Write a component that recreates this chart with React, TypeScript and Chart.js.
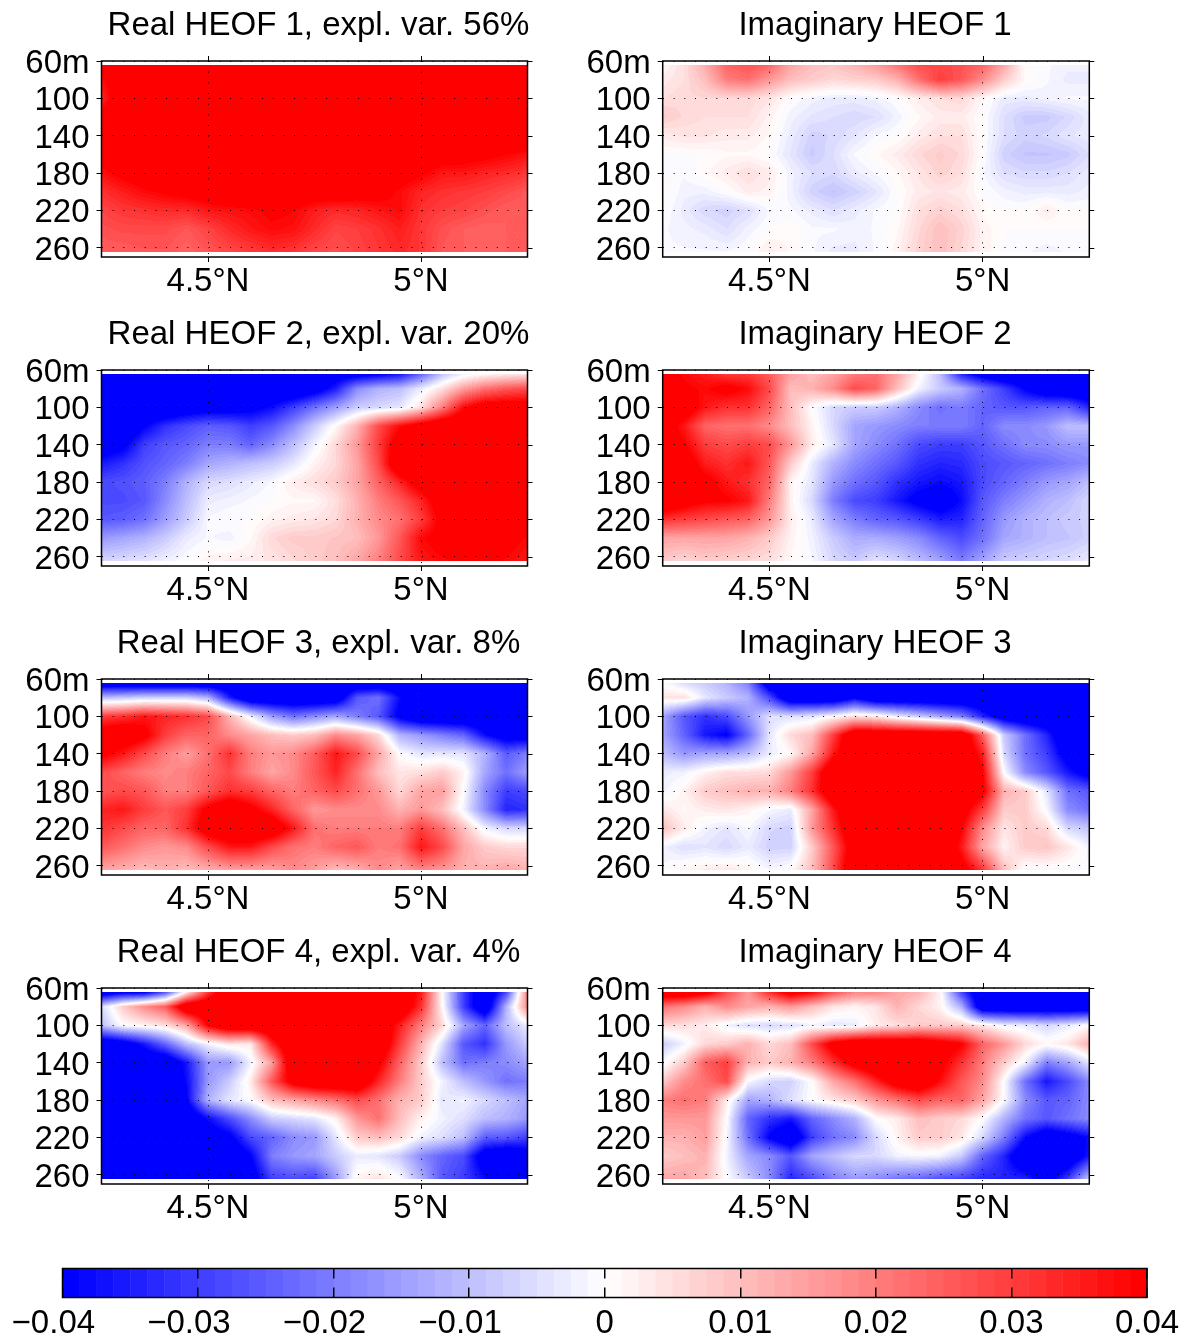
import React, { useEffect, useRef } from "react";
import { Chart, registerables } from "chart.js";

Chart.register(...registerables);

const FONT = "'Liberation Sans', Arial, sans-serif";
const FONT_SIZE = 33;

const latitudes = [4.25, 4.3, 4.35, 4.4, 4.45, 4.5, 4.55, 4.6, 4.65, 4.7, 4.75, 4.8, 4.85, 4.9, 4.95, 5.0, 5.05, 5.1, 5.15, 5.2, 5.25];
const depths = [63.5, 80, 100, 120, 140, 160, 180, 200, 220, 240, 265];
const xTickValues = [4.5, 5];
const xTickLabels = ["4.5°N", "5°N"];
const yTickValues = [60, 100, 140, 180, 220, 260];
const yTickLabels = ["60m", "100", "140", "180", "220", "260"];
const barTickValues = [-0.04, -0.03, -0.02, -0.01, 0, 0.01, 0.02, 0.03, 0.04];
const barTickLabels = ["−0.04\u00A0\u00A0", "−0.03\u00A0\u00A0", "−0.02\u00A0\u00A0", "−0.01\u00A0\u00A0", "0", "0.01", "0.02", "0.03", "0.04"];
const titles = [
  "Real HEOF 1, expl. var. 56%", "Imaginary HEOF 1",
  "Real HEOF 2, expl. var. 20%", "Imaginary HEOF 2",
  "Real HEOF 3, expl. var. 8%", "Imaginary HEOF 3",
  "Real HEOF 4, expl. var. 4%", "Imaginary HEOF 4",
];

// Values in thousandths, one row per depth, one column per latitude.
const realHeof1 = [
  [42,42,42,42,42,42,42,42,42,42,42,42,42,42,42,42,42,42,42,42,42],
  [38,45,46,46,46,46,46,46,46,46,46,46,46,46,46,46,46,46,46,46,46],
  [34,46,50,50,50,50,50,50,50,50,50,50,50,50,50,50,50,50,50,50,50],
  [42,50,50,50,50,50,50,50,50,50,50,50,50,50,50,50,50,50,50,50,50],
  [48,50,50,50,50,50,50,50,50,50,50,50,50,50,50,50,50,50,50,50,46],
  [43,47,50,50,50,50,50,50,50,50,50,50,50,50,50,46,43,42,41,39,37],
  [37,41,44,48,50,50,50,50,50,50,50,50,50,47,43,40,36,36,34,33,31],
  [32,35,38,40,42,44,47,47,50,47,44,44,43,42,38,34,32,31,30,28,26],
  [29,31,32,33,33,36,37,38,40,39,35,33,34,36,38,32,30,29,27,25,25],
  [27,28,28,28,26,29,33,36,38,37,33,29,30,32,35,31,27,25,24,25,25],
  [25,25,26,26,24,26,28,30,32,31,28,27,29,31,33,31,26,25,25,25,25],
];
const imagHeof1 = [
  [1,5,13,24,27,24,14,10,9,12,16,22,28,28,27,24,14,0,-1,-2,-2],
  [3,5,10,20,22,16,10,8,6,7,8,12,22,30,26,18,8,1,-1,-3,-3],
  [5,6,6,6,6,4,0,-2,-3,-3,-2,0,3,5,6,1,-3,-3,-2,-1,-1],
  [8,6,5,5,5,2,-2,-4,-5,-6,-5,-2,1,3,3,0,-5,-8,-8,-6,-3],
  [3,4,4,3,3,1,-3,-7,-6,-4,-1,0,3,5,5,0,-5,-7,-6,-4,-3],
  [0,0,0,1,1,0,-4,-8,-5,-1,1,3,6,8,6,0,-7,-9,-9,-8,-5],
  [0,-1,1,3,5,3,-2,-5,-6,-3,-1,1,4,7,5,-1,-5,-6,-6,-5,-3],
  [1,-2,-2,0,3,2,-2,-7,-9,-7,-4,0,3,4,3,0,-2,-3,-3,-3,-2],
  [0,-3,-6,-7,-5,-1,-1,-3,-5,-3,-1,0,5,7,5,1,0,0,3,0,0],
  [-1,-2,-3,-5,-2,0,1,-1,-1,-2,-1,1,6,10,7,2,0,0,0,0,0],
  [-1,-1,-1,-1,0,3,1,-1,-3,-3,-1,2,7,10,6,2,0,-1,-2,-1,-1],
];
const realHeof2 = [
  [-45,-45,-45,-45,-45,-45,-45,-45,-45,-45,-45,-45,-45,-42,-38,-25,-10,-3,0,2,3],
  [-50,-50,-50,-50,-50,-50,-50,-50,-50,-50,-45,-35,-18,-12,-10,-3,5,15,22,26,28],
  [-50,-50,-50,-50,-46,-44,-44,-42,-38,-30,-22,-15,-8,-6,-4,5,20,38,45,45,45],
  [-50,-50,-40,-32,-28,-25,-26,-30,-26,-18,-8,1,12,28,38,45,50,50,50,50,50],
  [-46,-42,-30,-26,-24,-20,-20,-24,-18,-10,-2,6,16,30,45,50,50,50,50,50,50],
  [-36,-32,-27,-24,-20,-14,-12,-10,-8,-4,2,6,14,28,50,50,50,50,50,50,50],
  [-28,-27,-25,-20,-12,-6,-5,-3,-1,3,5,8,14,24,34,45,50,50,50,50,50],
  [-28,-28,-26,-18,-10,-3,-2,-1,0,1,1,5,12,20,26,34,45,50,50,50,50],
  [-26,-25,-22,-15,-8,-1,0,0,2,3,4,6,12,18,22,30,42,50,50,50,50],
  [-16,-14,-12,-8,-3,-1,-2,1,6,8,8,9,10,16,26,38,42,45,45,42,38],
  [-6,-5,-4,-2,0,2,3,3,4,6,8,10,14,20,28,36,38,40,42,38,36],
];
const imagHeof2 = [
  [40,38,35,30,30,25,15,10,14,20,22,14,2,-10,-35,-45,-50,-50,-50,-50,-50],
  [50,40,38,42,38,28,10,12,18,28,24,10,-2,-8,-12,-22,-30,-40,-48,-50,-50],
  [50,46,36,32,32,24,10,0,-6,-8,-8,-12,-18,-22,-20,-24,-26,-26,-24,-24,-34],
  [45,36,24,22,22,18,10,2,-6,-14,-16,-18,-20,-20,-20,-24,-18,-18,-16,-10,-10],
  [44,40,30,28,30,28,16,3,-4,-14,-18,-22,-28,-30,-30,-26,-22,-18,-18,-16,-16],
  [50,45,35,32,36,26,8,-3,-12,-18,-22,-26,-32,-34,-33,-28,-26,-24,-22,-20,-18],
  [50,46,42,36,32,24,2,-4,-16,-22,-26,-32,-36,-38,-36,-28,-24,-20,-16,-14,-10],
  [50,44,40,40,36,20,2,-6,-20,-28,-30,-36,-42,-46,-38,-26,-20,-16,-12,-10,-6],
  [32,30,28,26,24,16,3,-3,-14,-20,-24,-26,-30,-35,-34,-24,-16,-12,-10,-8,-7],
  [14,14,14,14,12,8,2,-2,-8,-13,-13,-15,-18,-24,-28,-22,-14,-12,-10,-9,-7],
  [8,6,8,7,6,5,1,-1,-6,-8,-4,-6,-10,-14,-20,-14,-8,-7,-6,-5,-3],
];
const realHeof3 = [
  [-50,-50,-50,-50,-50,-50,-50,-50,-50,-50,-50,-50,-50,-50,-50,-50,-50,-50,-50,-50,-50],
  [-10,-9,-7,-7,-7,-12,-35,-50,-50,-50,-50,-48,-26,-22,-38,-46,-46,-50,-50,-50,-50],
  [30,32,36,34,32,28,12,-2,-15,-22,-18,-14,-20,-26,-42,-50,-50,-50,-50,-50,-50],
  [45,48,42,30,24,24,18,14,10,8,10,18,14,6,-12,-16,-20,-24,-38,-45,-45],
  [42,36,28,20,15,22,32,20,16,18,25,36,28,14,0,-4,-4,-4,-12,-25,-20],
  [28,24,20,18,20,24,28,20,14,18,26,34,22,10,4,5,8,2,-14,-22,-15],
  [26,28,26,20,20,26,32,30,24,20,24,28,22,16,6,14,15,0,-18,-30,-28],
  [34,36,30,26,30,42,48,42,34,24,16,18,18,18,12,16,10,-2,-18,-34,-32],
  [32,28,24,24,32,46,50,50,48,36,22,20,20,20,20,30,22,10,-2,-6,-6],
  [26,22,18,16,18,28,36,36,28,22,20,24,26,20,22,36,28,14,8,6,6],
  [14,12,10,12,10,12,14,14,14,18,15,10,12,18,14,18,16,12,12,14,12],
];
const imagHeof3 = [
  [0,-6,-8,-12,-20,-48,-50,-50,-50,-50,-50,-50,-50,-50,-50,-50,-50,-50,-50,-50,-50],
  [4,5,-4,-8,-12,-28,-50,-50,-50,-40,-50,-50,-50,-50,-50,-50,-50,-50,-50,-50,-50],
  [-14,-26,-32,-28,-16,-5,-5,-4,0,5,3,-3,-8,-14,-20,-34,-46,-50,-50,-50,-50],
  [-14,-24,-36,-40,-24,-4,6,10,30,50,50,50,50,50,50,25,-8,-22,-34,-50,-50],
  [-10,-16,-14,-14,-10,-3,1,14,36,50,50,50,50,50,50,35,-6,-22,-30,-44,-50],
  [-3,-2,2,5,5,6,16,30,50,50,50,50,50,50,50,40,0,-18,-26,-36,-44],
  [-2,2,8,10,12,12,20,32,50,50,50,50,50,50,50,42,12,8,-4,-22,-26],
  [4,1,3,4,2,-1,-3,14,36,50,50,50,50,50,45,30,8,8,-1,-18,-22],
  [10,3,-2,-4,-1,-6,-7,16,32,50,50,50,50,50,40,18,4,8,6,-6,-9],
  [-2,-5,-4,-6,-3,-7,-7,8,26,46,50,50,50,50,36,14,2,8,9,4,-2],
  [-1,2,3,4,2,-1,1,10,28,50,50,50,50,48,44,32,10,-1,-1,-1,-1],
];
const realHeof4 = [
  [-50,-45,-45,-30,0,30,50,50,50,50,50,50,50,50,50,36,0,-30,-50,-30,20],
  [-6,8,18,25,50,50,50,50,50,50,50,50,50,50,50,32,1,-30,-50,-12,18],
  [-10,0,2,5,14,40,50,50,50,50,50,50,50,50,35,20,6,-14,-24,-10,-3],
  [-50,-46,-36,-24,-10,-2,4,3,34,50,50,50,50,50,30,12,-5,-26,-32,-16,-8],
  [-50,-50,-50,-50,-36,-16,-16,-2,15,50,50,50,50,42,24,8,-10,-22,-20,-18,-14],
  [-50,-50,-50,-50,-38,-16,-8,3,26,44,50,50,50,34,20,8,-2,-10,-16,-22,-20],
  [-50,-50,-50,-50,-40,-12,-4,0,10,14,18,22,28,22,12,8,-4,-2,-6,-10,-14],
  [-50,-50,-50,-50,-50,-38,-28,-18,-8,-6,-4,2,16,22,10,2,-2,-5,-10,-12,-16],
  [-50,-50,-50,-50,-50,-46,-42,-28,-24,-18,-16,-4,8,10,6,-2,-5,-10,-25,-26,-30],
  [-50,-50,-50,-50,-50,-50,-50,-40,-20,-16,-14,-8,-3,-4,-8,-18,-24,-28,-46,-50,-44],
  [-50,-50,-50,-50,-50,-50,-50,-45,-30,-28,-30,-16,2,5,0,-12,-26,-30,-38,-48,-50],
];
const imagHeof4 = [
  [50,50,45,28,16,34,46,40,28,20,20,14,12,2,-30,-50,-50,-50,-50,-50,-50],
  [22,18,12,18,14,12,16,10,4,2,4,12,6,2,-12,-50,-50,-50,-50,-50,-50],
  [6,5,3,-2,-5,-6,-5,-2,-4,-3,3,5,8,8,8,4,-2,-3,-6,-3,1],
  [-8,-2,6,8,12,6,10,28,44,50,50,50,50,45,40,24,16,6,1,4,12],
  [-1,8,25,30,12,8,12,20,32,44,50,50,50,42,32,20,8,-2,-20,-14,-4],
  [8,18,22,28,-1,-6,-7,0,14,22,34,46,50,38,26,18,0,-22,-36,-28,-18],
  [20,22,20,3,-14,-12,-5,0,4,8,16,22,28,24,24,14,0,-18,-26,-24,-18],
  [16,16,16,0,-24,-32,-36,-24,-18,-12,0,3,10,8,6,0,-12,-22,-26,-22,-18],
  [12,12,15,-1,-22,-40,-50,-30,-22,-18,-6,2,8,8,4,-6,-20,-38,-48,-44,-38],
  [8,10,12,-2,-14,-18,-26,-14,-10,-6,-6,-2,-1,-2,-8,-24,-34,-50,-50,-50,-36],
  [14,14,10,0,-8,-18,-34,-28,-20,-16,-18,-22,-24,-28,-30,-34,-34,-34,-44,-30,-8],
];
const panels = [realHeof1, imagHeof1, realHeof2, imagHeof2, realHeof3, imagHeof3, realHeof4, imagHeof4];

const LEVEL = 0.00125;
const MAX_INDEX = 32;

function bandRgb(v: number): [number, number, number] {
  let k = Math.floor(v / LEVEL);
  k = Math.max(-MAX_INDEX, Math.min(MAX_INDEX - 1, k));
  const neg = k < 0;
  const t = (neg ? -k - 1 + 0.5 : k + 0.5) / (MAX_INDEX - 0.5);
  const c = Math.round(255 * (1 - t));
  return neg ? [c, c, 255] : [255, c, c];
}

function fieldAt(values: number[], lat: number, depth: number): number {
  const nx = latitudes.length;
  const ny = depths.length;
  let i = 0;
  while (i < nx - 2 && latitudes[i + 1] <= lat) i++;
  let j = 0;
  while (j < ny - 2 && depths[j + 1] <= depth) j++;
  const fx = Math.max(0, Math.min(1, (lat - latitudes[i]) / (latitudes[i + 1] - latitudes[i])));
  const fy = Math.max(0, Math.min(1, (depth - depths[j]) / (depths[j + 1] - depths[j])));
  const a = values[j * nx + i];
  const b = values[j * nx + i + 1];
  const c = values[(j + 1) * nx + i];
  const d = values[(j + 1) * nx + i + 1];
  return a * (1 - fx) * (1 - fy) + b * fx * (1 - fy) + c * (1 - fx) * fy + d * fx * fy;
}

const contourPlugin = {
  id: "contourFill",
  beforeDatasetsDraw(chart: any) {
    const { ctx, chartArea, scales } = chart;
    const values = chart.data.datasets[0].data.map((p: any) => p.v);
    const x0 = Math.ceil(chartArea.left);
    const x1 = Math.floor(chartArea.right);
    const y0 = Math.ceil(scales.y.getPixelForValue(depths[0]));
    const y1 = Math.floor(scales.y.getPixelForValue(depths[depths.length - 1]));
    const w = x1 - x0;
    const h = y1 - y0;
    const img = ctx.createImageData(w, h);
    for (let py = 0; py < h; py++) {
      const depth = scales.y.getValueForPixel(y0 + py + 0.5);
      for (let px = 0; px < w; px++) {
        const lat = scales.x.getValueForPixel(x0 + px + 0.5);
        const [r, g, b] = bandRgb(fieldAt(values, lat, depth));
        const o = (py * w + px) * 4;
        img.data[o] = r;
        img.data[o + 1] = g;
        img.data[o + 2] = b;
        img.data[o + 3] = 255;
      }
    }
    ctx.putImageData(img, x0, y0);
  },
};

const framePlugin = {
  id: "panelFrame",
  afterDraw(chart: any) {
    const { ctx, chartArea: a, scales } = chart;
    ctx.save();
    ctx.strokeStyle = "#000";
    ctx.lineWidth = 1.5;
    ctx.strokeRect(a.left, a.top, a.right - a.left, a.bottom - a.top);
    ctx.lineWidth = 1;
    ctx.beginPath();
    for (const t of scales.x.ticks) {
      const x = Math.round(scales.x.getPixelForValue(t.value)) + 0.5;
      ctx.moveTo(x, a.top);
      ctx.lineTo(x, a.top - 5);
    }
    for (const t of scales.y.ticks) {
      const y = Math.round(scales.y.getPixelForValue(t.value)) + 0.5;
      ctx.moveTo(a.right, y);
      ctx.lineTo(a.right + 5, y);
    }
    ctx.stroke();
    ctx.restore();
  },
};

const barPlugin = {
  id: "colorBands",
  beforeDatasetsDraw(chart: any) {
    const { ctx, chartArea: a, scales } = chart;
    for (const p of chart.data.datasets[0].data) {
      const l = scales.x.getPixelForValue(p.x - LEVEL / 2);
      const r = scales.x.getPixelForValue(p.x + LEVEL / 2);
      const [cr, cg, cb] = bandRgb(p.x);
      ctx.fillStyle = `rgb(${cr},${cg},${cb})`;
      ctx.fillRect(l, a.top, r - l + 0.5, a.bottom - a.top);
    }
  },
};

const barFramePlugin = {
  id: "barFrame",
  afterDraw(chart: any) {
    const { ctx, chartArea: a } = chart;
    ctx.save();
    ctx.strokeStyle = "#000";
    ctx.lineWidth = 1.5;
    ctx.strokeRect(a.left, a.top, a.right - a.left, a.bottom - a.top);
    ctx.restore();
  },
};

function Panel({ index }: { index: number }) {
  const ref = useRef<HTMLCanvasElement>(null);
  const isLeft = index % 2 === 0;
  const rowTop = 61 + 309 * Math.floor(index / 2);
  const canvasLeft = isLeft ? 0 : 580;
  const canvasWidth = isLeft ? 637 : 590;
  const plotLeft = isLeft ? 101.5 : 82.7;
  const plotRightGap = isLeft ? 109.5 : 80.7;
  const titleBlock = 52;
  const bottomBlock = 50;
  useEffect(() => {
    const grid = panels[index];
    const points: { x: number; y: number; v: number }[] = [];
    grid.forEach((row, j) => row.forEach((v, i) => points.push({ x: latitudes[i], y: depths[j], v: v / 1000 })));
    const chart = new Chart(ref.current!, {
      type: "scatter",
      data: { datasets: [{ label: titles[index], data: points, pointRadius: 0, pointHoverRadius: 0 }] },
      options: {
        animation: false,
        responsive: false,
        devicePixelRatio: 1,
        plugins: {
          legend: { display: false },
          tooltip: { enabled: false },
          title: {
            display: true,
            text: titles[index],
            color: "#000",
            font: { family: FONT, size: FONT_SIZE, weight: "normal", lineHeight: 1 },
            padding: { top: 0, bottom: titleBlock - FONT_SIZE },
          },
        },
        scales: {
          x: {
            type: "linear",
            min: 4.25,
            max: 5.25,
            afterFit: (s: any) => { s.height = bottomBlock; },
            afterBuildTicks: (s: any) => { s.ticks = xTickValues.map((value) => ({ value })); },
            border: { display: false, dash: [1, 9.67] },
            grid: { z: 1, color: "#000", lineWidth: 1, tickColor: "#000", tickLength: 5, tickBorderDash: [] },
            ticks: {
              autoSkip: false,
              maxRotation: 0,
              color: "#000",
              padding: 3,
              font: { family: FONT, size: FONT_SIZE, lineHeight: 1 },
              callback: (v: any) => xTickLabels[xTickValues.indexOf(v)],
            },
          },
          y: {
            type: "linear",
            reverse: true,
            min: 60,
            max: 270,
            afterFit: (s: any) => { s.width = plotLeft; },
            afterBuildTicks: (s: any) => { s.ticks = yTickValues.map((value) => ({ value })); },
            border: { display: false, dash: [1, 9.67] },
            grid: { z: 1, color: "#000", lineWidth: 1, tickColor: "#000", tickLength: 5, tickBorderDash: [] },
            ticks: {
              autoSkip: false,
              color: "#000",
              padding: 7,
              labelOffset: 3,
              font: { family: FONT, size: FONT_SIZE, lineHeight: 1 },
              callback: (v: any) => yTickLabels[yTickValues.indexOf(v)],
            },
          },
          gap: {
            type: "linear",
            position: "right",
            afterFit: (s: any) => { s.width = plotRightGap; },
            border: { display: false },
            grid: { display: false, drawOnChartArea: false, drawTicks: false },
            ticks: { display: false },
          },
        },
      } as any,
      plugins: [contourPlugin, framePlugin] as any,
    });
    return () => chart.destroy();
  }, [index]);
  return (
    <canvas
      ref={ref}
      width={canvasWidth}
      height={titleBlock + 196 + bottomBlock}
      style={{ position: "absolute", left: canvasLeft, top: rowTop - titleBlock, width: canvasWidth, height: titleBlock + 196 + bottomBlock }}
    />
  );
}

function ColorBar() {
  const ref = useRef<HTMLCanvasElement>(null);
  useEffect(() => {
    const bands: { x: number; y: number }[] = [];
    for (let k = -MAX_INDEX; k < MAX_INDEX; k++) bands.push({ x: (k + 0.5) * LEVEL, y: 0 });
    const chart = new Chart(ref.current!, {
      type: "scatter",
      data: { datasets: [{ label: "colour bar", data: bands, pointRadius: 0, pointHoverRadius: 0 }] },
      options: {
        animation: false,
        responsive: false,
        devicePixelRatio: 1,
        layout: { autoPadding: false, padding: { left: 62.5, right: 40, top: 8.5, bottom: 0 } },
        plugins: { legend: { display: false }, tooltip: { enabled: false } },
        scales: {
          x: {
            type: "linear",
            min: -0.04,
            max: 0.04,
            afterFit: (s: any) => { s.height = 41.5; s.paddingLeft = 0; s.paddingRight = 0; },
            afterBuildTicks: (s: any) => { s.ticks = barTickValues.map((value) => ({ value })); },
            border: { display: false, dash: [10, 9] },
            grid: { z: 1, color: "#000", lineWidth: 1.5, drawTicks: false },
            ticks: {
              autoSkip: false,
              maxRotation: 0,
              color: "#000",
              padding: 10,
              font: { family: FONT, size: FONT_SIZE, lineHeight: 1 },
              callback: (v: any) => barTickLabels[barTickValues.findIndex((t) => Math.abs(t - v) < 1e-9)],
            },
          },
          y: { display: false, min: -1, max: 1 },
        },
      } as any,
      plugins: [barPlugin, barFramePlugin] as any,
    });
    return () => chart.destroy();
  }, []);
  return (
    <canvas ref={ref} width={1187} height={79} style={{ position: "absolute", left: 0, top: 1260, width: 1187, height: 79 }} />
  );
}

export default function App() {
  return (
    <div style={{ position: "absolute", left: 0, top: 0, width: 1187, height: 1339, overflow: "hidden", background: "#fff" }}>
      {panels.map((_, i) => (
        <Panel key={i} index={i} />
      ))}
      <ColorBar />
    </div>
  );
}
